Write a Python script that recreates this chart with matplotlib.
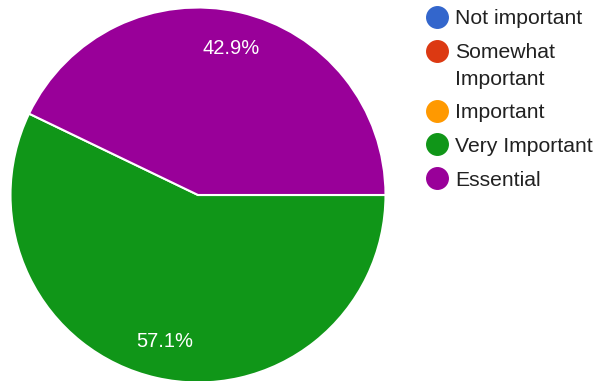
import matplotlib.pyplot as plt
from matplotlib.lines import Line2D

labels = ["Not important", "Somewhat\nImportant", "Important", "Very Important", "Essential"]
counts = [0, 0, 0, 4, 3]
colors = ["#3366cc", "#dc3912", "#ff9900", "#109618", "#990099"]

W, H = 597, 381
plt.rcParams["font.family"] = ["Liberation Sans", "DejaVu Sans"]

fig = plt.figure(figsize=(W / 100, H / 100), dpi=100)


def px(x, y):
    # pixel coords (from top-left) -> figure fraction
    return x / W, 1 - y / H


# pie: centre (198, 195), radius 187.5 px
cx, cy, r = 198, 195, 187.5
ax = fig.add_axes([(cx - r) / W, (H - cy - r) / H, 2 * r / W, 2 * r / H])


def pct(p):
    return f"{p:.1f}%" if p > 0 else ""


ax.pie(counts, colors=colors, startangle=0, counterclock=False,
       autopct=pct, pctdistance=0.8,
       wedgeprops=dict(edgecolor="white", linewidth=1.5),
       textprops=dict(color="white", fontsize=14.5))
ax.set_xlim(-1, 1)
ax.set_ylim(-1, 1)
ax.set_aspect("equal")
ax.axis("off")

# legend drawn by hand, one row per category
row_y = [17, 51, 111, 144.5, 178]
line_h = 26.5
for lab, col, y in zip(labels, colors, row_y):
    fig.add_artist(Line2D([437 / W], [1 - y / H], marker="o", markersize=15.5,
                          color=col, linestyle="none", transform=fig.transFigure))
    for i, part in enumerate(lab.split("\n")):
        tx, ty = px(455, y + 7.5 + i * line_h)
        fig.text(tx, ty, part, fontsize=15.2, color="#212121", va="baseline", ha="left")

fig.savefig("out.png", dpi=100)
